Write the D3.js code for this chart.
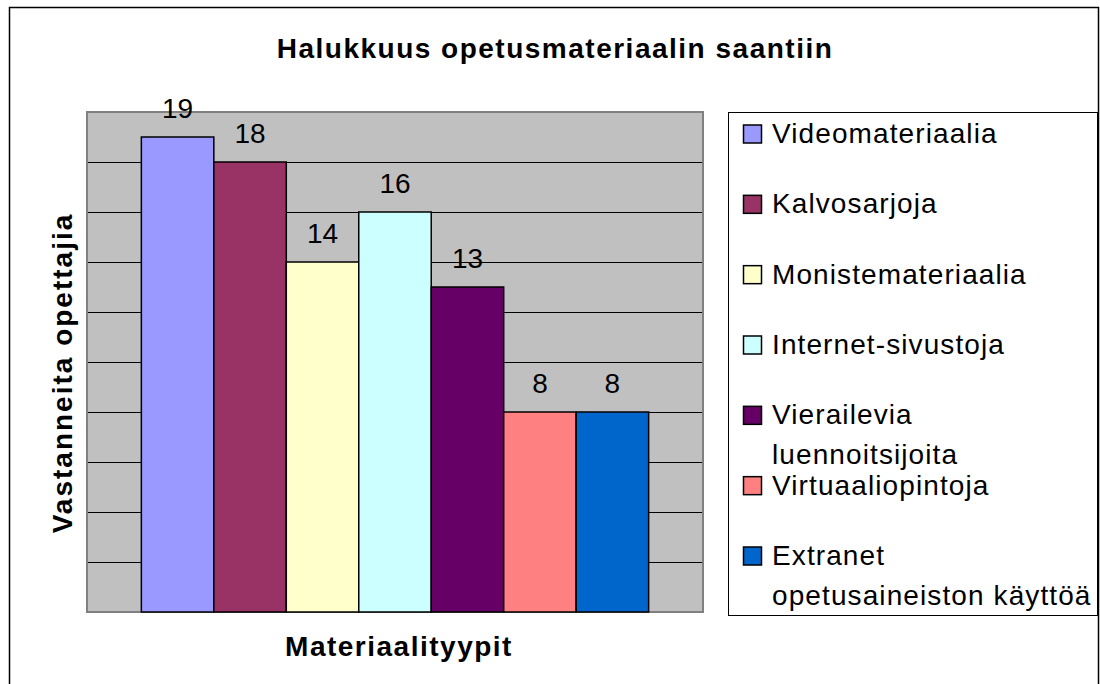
<!DOCTYPE html>
<html lang="fi">
<head>
  <meta charset="utf-8" />
  <title>Halukkuus opetusmateriaalin saantiin</title>
  <script src="https://cdn.jsdelivr.net/npm/d3@7/dist/d3.min.js"></script>
  <style>
    body { margin: 0; background: #fff; }
    text { font-family: "Liberation Sans", Arial, sans-serif; fill: #000; }
  </style>
</head>
<body>
<script>
// data
var categories = ["Videomateriaalia", "Kalvosarjoja", "Monistemateriaalia", "Internet-sivustoja",
                  "Vierailevia luennoitsijoita", "Virtuaaliopintoja", "Extranet opetusaineiston käyttöä"];
var legendLines = [["Videomateriaalia"], ["Kalvosarjoja"], ["Monistemateriaalia"], ["Internet-sivustoja"],
                   ["Vierailevia", "luennoitsijoita"], ["Virtuaaliopintoja"], ["Extranet", "opetusaineiston käyttöä"]];
var values = [19, 18, 14, 16, 13, 8, 8];
var colors = ["#9999FF", "#993366", "#FFFFCC", "#CCFFFF", "#660066", "#FF8080", "#0066CC"];
var gridTicks = [2, 4, 6, 8, 10, 12, 14, 16, 18];

var width = 1100, height = 684;
var plot = { left: 87, top: 112, right: 703, bottom: 612 };

var svg = d3.select("body").append("svg")
    .attr("width", width)
    .attr("height", height);

// outer chart frame
svg.append("rect")
    .attr("x", 9.5).attr("y", 7.5)
    .attr("width", 1089).attr("height", 700)
    .attr("fill", "#fff")
    .attr("stroke", "#000")
    .attr("stroke-width", 1.5);

var x = d3.scaleBand()
    .domain(categories)
    .range([plot.left, plot.right])
    .paddingInner(0)
    .paddingOuter(0.75);

var y = d3.scaleLinear()
    .domain([0, 20])
    .range([plot.bottom, plot.top]);

// plot area
svg.append("rect")
    .attr("x", plot.left).attr("y", plot.top)
    .attr("width", plot.right - plot.left)
    .attr("height", plot.bottom - plot.top)
    .attr("fill", "#C0C0C0");

svg.append("g").selectAll("line")
    .data(gridTicks)
    .enter().append("line")
    .attr("x1", plot.left).attr("x2", plot.right)
    .attr("y1", d => Math.round(y(d)) + 0.5)
    .attr("y2", d => Math.round(y(d)) + 0.5)
    .attr("stroke", "#000")
    .attr("stroke-width", 1);

svg.append("rect")
    .attr("x", plot.left).attr("y", plot.top)
    .attr("width", plot.right - plot.left)
    .attr("height", plot.bottom - plot.top)
    .attr("fill", "none")
    .attr("stroke", "#808080")
    .attr("stroke-width", 2);

// bars
svg.append("g").selectAll("rect")
    .data(values)
    .enter().append("rect")
    .attr("x", (d, i) => x(categories[i]))
    .attr("y", d => y(d))
    .attr("width", x.bandwidth())
    .attr("height", d => y(0) - y(d))
    .attr("fill", (d, i) => colors[i])
    .attr("stroke", "#000")
    .attr("stroke-width", 1.5);

// value labels
svg.append("g").selectAll("text")
    .data(values)
    .enter().append("text")
    .attr("x", (d, i) => x(categories[i]) + x.bandwidth() / 2)
    .attr("y", d => y(d) - 19)
    .attr("text-anchor", "middle")
    .attr("font-size", "28px")
    .text(d => d);

// titles
svg.append("text")
    .attr("x", 555).attr("y", 58)
    .attr("text-anchor", "middle")
    .attr("font-size", "28px")
    .attr("font-weight", "bold")
    .attr("letter-spacing", "1.5px")
    .text("Halukkuus opetusmateriaalin saantiin");

svg.append("text")
    .attr("x", (plot.left + plot.right) / 2 + 4).attr("y", 656)
    .attr("text-anchor", "middle")
    .attr("font-size", "28px")
    .attr("font-weight", "bold")
    .attr("letter-spacing", "1.5px")
    .text("Materiaalityypit");

svg.append("text")
    .attr("transform", "translate(72," + ((plot.top + plot.bottom) / 2 + 11) + ") rotate(-90)")
    .attr("text-anchor", "middle")
    .attr("font-size", "28px")
    .attr("font-weight", "bold")
    .attr("letter-spacing", "2px")
    .text("Vastanneita opettajia");

// legend
svg.append("rect")
    .attr("x", 728.5).attr("y", 112.5)
    .attr("width", 369).attr("height", 503)
    .attr("fill", "#fff")
    .attr("stroke", "#000")
    .attr("stroke-width", 1);

var ly = d3.scalePoint()
    .domain(categories)
    .range([143, 565]);

var items = svg.append("g").selectAll("g")
    .data(categories)
    .enter().append("g")
    .attr("transform", d => "translate(0," + ly(d) + ")");

items.append("rect")
    .attr("x", 743.5).attr("y", -18)
    .attr("width", 18).attr("height", 18)
    .attr("fill", (d, i) => colors[i])
    .attr("stroke", "#000")
    .attr("stroke-width", 1.5);

items.append("text")
    .attr("x", 772)
    .attr("font-size", "28px")
    .attr("letter-spacing", "1.1px")
    .selectAll("tspan")
    .data((d, i) => legendLines[i])
    .enter().append("tspan")
    .attr("x", 772)
    .attr("y", (d, j) => j * 40)
    .text(d => d);
</script>
</body>
</html>
